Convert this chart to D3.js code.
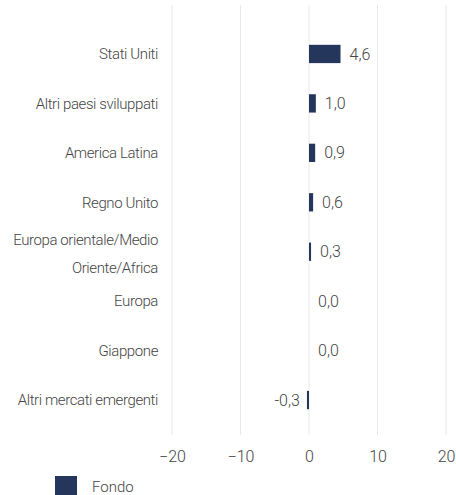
<!DOCTYPE html>
<html>
<head>
<meta charset="utf-8">
<script src="https://cdn.jsdelivr.net/npm/d3@7"></script>
<style>
  body { margin: 0; background: #fff; }
  text { font-family: "Roboto", "DejaVu Sans Condensed", sans-serif; font-weight: 300; }
</style>
</head>
<body>
<div id="chart"></div>
<script>
/* DATA */
const regions = ["Stati Uniti", "Altri paesi sviluppati", "America Latina", "Regno Unito",
  "Europa orientale/Medio Oriente/Africa", "Europa", "Giappone", "Altri mercati emergenti"]
const fondo = [4.6, 1.0, 0.9, 0.6, 0.3, 0.0, 0.0, -0.3]
const xTicks = [-20, -10, 0, 10, 20]
const seriesName = "Fondo"

/* CONSTANTS */
const width = 456, height = 495
const margin = { top: 5, left: 172, right: 10, bottom: 60 }
const barColor = "#24365b"
const textColor = "#444"

const svg = d3.select("#chart")
  .append("svg")
  .attr("width", width)
  .attr("height", height)

//scales
const xScale = d3.scaleLinear()
  .domain([-20, 20])
  .range([172, 446])

const yScale = d3.scaleBand()
  .domain(regions)
  .range([29, 425])
  .paddingInner(0.63)
  .paddingOuter(0.32)

//grid lines
svg.append("g")
  .attr("class", "grid")
  .selectAll("line")
  .data(xTicks)
  .join("line")
  .attr("x1", d => xScale(d))
  .attr("x2", d => xScale(d))
  .attr("y1", margin.top)
  .attr("y2", 435)
  .attr("stroke", "#e8e8e8")
  .attr("stroke-width", 1)

//x-axis tick labels
const xAxis = d3.axisBottom(xScale)
  .tickValues(xTicks)
  .tickSize(0)
  .tickPadding(0)
  .tickFormat(d3.format("d"))

svg.append("g")
  .attr("class", "x-axis")
  .attr("transform", "translate(0, 451)")
  .call(xAxis)
  .call(g => g.select(".domain").remove())
  .call(g => g.selectAll("text")
    .attr("fill", textColor)
    .attr("font-family", null)
    .attr("font-size", "16px"))

//bars
svg.selectAll(".bar")
  .data(fondo)
  .join("rect")
  .attr("class", "bar")
  .attr("x", d => xScale(Math.min(0, d)))
  .attr("y", (d, i) => yScale(regions[i]))
  .attr("width", d => Math.abs(xScale(d) - xScale(0)))
  .attr("height", yScale.bandwidth())
  .attr("fill", barColor)

//value labels
const fmt = d3.formatLocale({ decimal: ",", thousands: ".", grouping: [3], currency: ["", "€"], minus: "-" }).format(".1f")

svg.selectAll(".value")
  .data(fondo)
  .join("text")
  .attr("class", "value")
  .attr("x", d => d < 0 ? xScale(d) - 7 : xScale(d) + 9)
  .attr("y", (d, i) => yScale(regions[i]) + yScale.bandwidth() / 2)
  .attr("dy", "0.35em")
  .attr("text-anchor", d => d < 0 ? "end" : "start")
  .attr("fill", textColor)
  .attr("font-size", "16px")
  .text(d => fmt(d))

//category labels
const catLabels = svg.selectAll(".cat")
  .data(regions)
  .join("text")
  .attr("class", "cat")
  .attr("x", 158)
  .attr("y", d => yScale(d) + yScale.bandwidth() / 2)
  .attr("text-anchor", "end")
  .attr("fill", textColor)
  .attr("font-size", "15px")
  .attr("letter-spacing", "-0.4px")

catLabels.each(function (d) {
  const lines = d === "Europa orientale/Medio Oriente/Africa"
    ? ["Europa orientale/Medio", "Oriente/Africa"]
    : [d]
  const el = d3.select(this)
  const start = lines.length > 1 ? -0.45 : 0.35
  lines.forEach((l, i) => {
    el.append("tspan")
      .attr("x", 158)
      .attr("dy", i === 0 ? start + "em" : "1.85em")
      .text(l)
  })
})

//legend
const legend = svg.append("g")
  .attr("class", "legend")
  .attr("transform", "translate(55, 476)")

legend.append("rect")
  .attr("width", 22)
  .attr("height", 19)
  .attr("fill", barColor)

legend.append("text")
  .attr("x", 37)
  .attr("y", 11)
  .attr("dy", "0.35em")
  .attr("fill", textColor)
  .attr("font-size", "15px")
  .text(seriesName)
</script>
</body>
</html>
